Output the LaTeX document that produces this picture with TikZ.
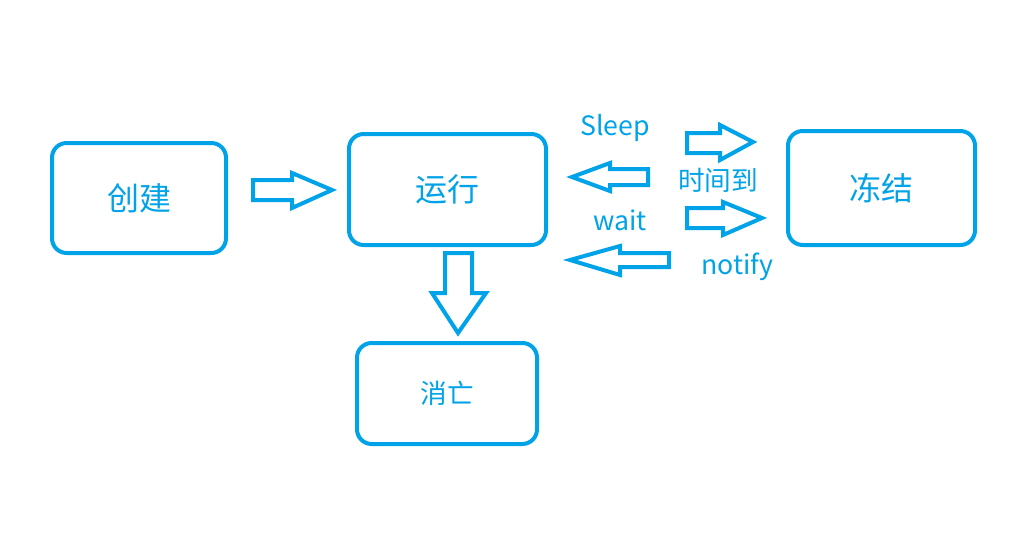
\documentclass[tikz,border=0pt]{standalone}
\usepackage{fontspec}
\newfontfamily\cjk{Noto Sans CJK SC}
\definecolor{skyblue}{HTML}{00A2E8}
\tikzset{
  state/.style={draw=skyblue, line width=3pt, rounded corners=11pt, font=\cjk\fontsize{24}{28}\selectfont, text=skyblue},
  blockarr/.style={draw=skyblue, line width=3pt, line join=miter},
  lbl/.style={font=\cjk\fontsize{20}{24}\selectfont, text=skyblue, inner sep=0pt}
}

\begin{document}
\begin{tikzpicture}[x=0.75pt,y=-0.75pt]
    \useasboundingbox (0,0) rectangle (1031,557);

    % states
    \node[state, minimum width=130.5pt, minimum height=82.5pt] (create) at (139,198) {创建};
    \node[state, minimum width=147.75pt, minimum height=83.25pt] (run) at (447.5,189.5) {运行};
    \node[state, minimum width=140.25pt, minimum height=85.5pt] (freeze) at (881.5,188) {冻结};
    \node[state, minimum width=135pt, minimum height=75.75pt, font=\cjk\fontsize{20}{24}\selectfont] (dead) at (447,393.5) {消亡};

    % create -> run
    \draw[blockarr] (253,180) -- (292,180) -- (292,173) -- (332,190) -- (292,208) -- (292,200) -- (253,200) -- cycle;
    % run -> dead
    \draw[blockarr] (445,253) -- (472,253) -- (472,293) -- (486,293) -- (458,333) -- (432,293) -- (445,293) -- cycle;

    % run -> freeze
    \draw[blockarr] (687,133) -- (720,133) -- (720,125) -- (753,142) -- (720,160) -- (720,153) -- (687,153) -- cycle;
    \draw[blockarr] (687,208) -- (723,208) -- (723,202) -- (762,218) -- (723,235) -- (723,228) -- (687,228) -- cycle;
    % freeze -> run
    \draw[blockarr] (648,169) -- (610,169) -- (610,163) -- (572,177) -- (610,191) -- (610,185) -- (648,185) -- cycle;
    \draw[blockarr] (669,253) -- (620,253) -- (620,246) -- (570,260) -- (620,275) -- (620,267) -- (669,267) -- cycle;

    % labels
    \node[lbl] (sleep) at (615,128) {Sleep};
    \node[lbl] (timeup) at (718,180) {时间到};
    \node[lbl] (wait) at (620,220) {wait};
    \node[lbl] (notify) at (737,267) {notify};
\end{tikzpicture}
\end{document}
